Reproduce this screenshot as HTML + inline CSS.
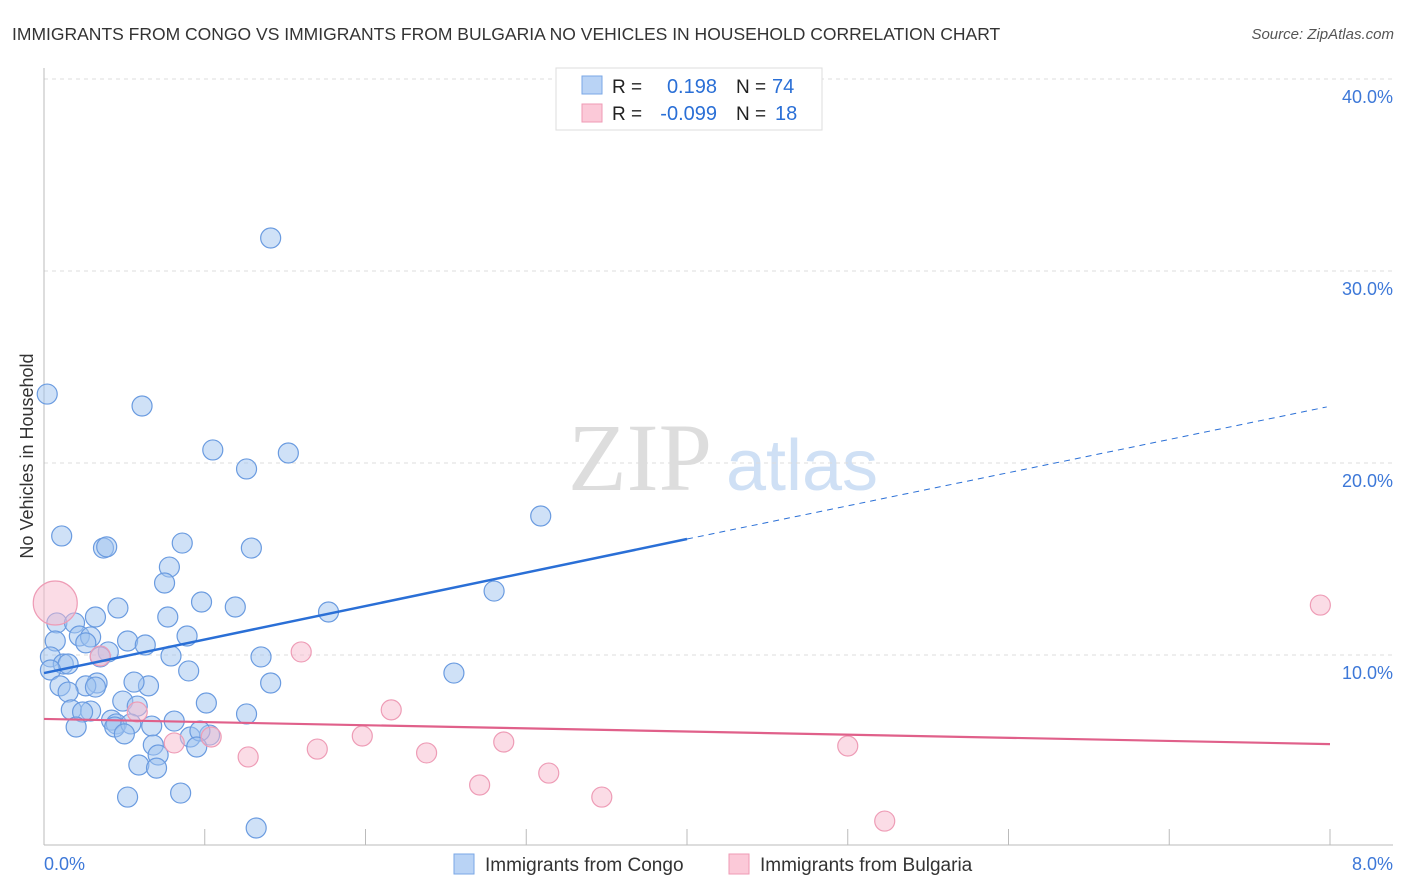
<!DOCTYPE html>
<html><head><meta charset="utf-8"><style>
body{margin:0;background:#fff;font-family:"Liberation Sans",sans-serif;}
svg{display:block}
</style></head><body>
<svg width="1406" height="892" id="chart">
<text x="12" y="40" font-size="17.5" fill="#333">IMMIGRANTS FROM CONGO VS IMMIGRANTS FROM BULGARIA NO VEHICLES IN HOUSEHOLD CORRELATION CHART</text>
<text x="1394" y="39" font-size="15" fill="#555" font-style="italic" text-anchor="end">Source: ZipAtlas.com</text>
<text x="640" y="490" font-size="96" fill="#ddd" text-anchor="middle" font-family="Liberation Serif,serif">ZIP</text>
<text x="802" y="490" font-size="72" fill="#cfe0f5" text-anchor="middle">atlas</text>
<g id="grid"></g><g id="axes"></g><g id="pts"></g><g id="trend"></g>
<text x="33" y="456" font-size="18" fill="#333" text-anchor="middle" transform="rotate(-90 33 456)">No Vehicles in Household</text>
<g>
<rect x="556" y="68" width="266" height="62" fill="#fff" stroke="#ddd"/>
<rect x="582" y="76" width="20" height="18" fill="#b9d3f5" stroke="#7aa7e6"/>
<rect x="582" y="104" width="20" height="18" fill="#fbc9d8" stroke="#ef9ab5"/>
<text x="612" y="93" font-size="19" fill="#222">R =</text><text x="717" y="93" font-size="20" fill="#2a6fd6" text-anchor="end">0.198</text>
<text x="736" y="93" font-size="19" fill="#222">N =</text><text x="772" y="93" font-size="20" fill="#2a6fd6">74</text>
<text x="612" y="120" font-size="19" fill="#222">R =</text><text x="717" y="120" font-size="20" fill="#2a6fd6" text-anchor="end">-0.099</text>
<text x="736" y="120" font-size="19" fill="#222">N =</text><text x="775" y="120" font-size="20" fill="#2a6fd6">18</text>
</g>
<g>
<rect x="454" y="854" width="20" height="20" fill="#b9d3f5" stroke="#7aa7e6"/>
<text x="485" y="871" font-size="19" fill="#333">Immigrants from Congo</text>
<rect x="729" y="854" width="20" height="20" fill="#fbc9d8" stroke="#ef9ab5"/>
<text x="760" y="871" font-size="19" fill="#333">Immigrants from Bulgaria</text>
</g>
</svg>
<script>
const yTicks=[10,20,30,40];
const xTickLabels=["0.0%","8.0%"];
const congoX=[0.02,0.61,1.41,1.05,1.52,1.26,3.09,0.11,0.37,0.39,0.86,1.29,0.78,0.75,2.80,0.98,1.19,0.46,0.32,0.77,1.77,0.08,0.19,0.07,0.22,0.29,0.26,0.52,0.63,0.89,0.40,0.35,0.04,0.12,0.15,0.79,1.35,2.55,0.04,0.90,1.41,0.33,0.26,0.32,0.65,0.10,0.15,0.56,0.49,1.01,0.17,0.29,0.24,0.58,1.26,0.42,0.45,0.81,0.20,0.44,0.67,0.54,0.91,1.03,0.50,0.97,0.68,0.95,0.71,0.59,0.70,0.52,0.85,1.32];
const congoY=[23.59,22.97,31.72,20.68,20.52,19.69,17.24,16.20,15.57,15.63,15.83,15.57,14.58,13.75,13.33,12.76,12.50,12.45,11.98,11.98,12.24,11.67,11.67,10.73,10.99,10.94,10.63,10.73,10.52,10.99,10.16,9.90,9.90,9.53,9.53,9.95,9.90,9.06,9.22,9.17,8.54,8.54,8.39,8.33,8.39,8.39,8.07,8.59,7.60,7.50,7.14,7.08,7.03,7.34,6.93,6.61,6.41,6.56,6.25,6.25,6.30,6.41,5.73,5.83,5.89,6.04,5.31,5.21,4.79,4.27,4.11,2.60,2.81,0.99];
const bulgX=[0.07,0.35,1.60,2.16,0.58,0.81,1.04,1.27,1.70,1.98,2.38,2.86,3.14,2.71,3.47,5.00,5.23,7.94];
const bulgY=[12.71,9.95,10.16,7.14,7.03,5.42,5.73,4.69,5.10,5.78,4.90,5.47,3.85,3.23,2.60,5.26,1.35,12.60];
const bulgSize=[22,10,10,10,10,10,10,10,10,10,10,10,10,10,10,10,10,10];
const congoTrend=[[0,9.06],[4.0,16.04],[7.98,22.92]];
const bulgTrend=[[0,6.67],[8.0,5.36]];
const sx=v=>44+v*160.75, sy=v=>847-v*19.2;
const NS="http://www.w3.org/2000/svg";
function mk(t,a,p){const e=document.createElementNS(NS,t);for(const k in a)e.setAttribute(k,a[k]);p.appendChild(e);return e;}
const grid=document.getElementById('grid'),axes=document.getElementById('axes'),pts=document.getElementById('pts'),tr=document.getElementById('trend');
yTicks.forEach(v=>{
 const l=mk('line',{x1:44,x2:1393,y1:sy(v),y2:sy(v),stroke:'#ddd','stroke-dasharray':'4,4'},grid);
 
 
 const t=mk('text',{x:1393,y:sy(v)+24,'font-size':18,fill:'#3d78d8','text-anchor':'end'},axes);
 t.textContent=v.toFixed(1)+'%';
 
 
});
let a=mk('line',{x1:44,x2:44,y1:68,y2:845,stroke:'#bbb'},axes);


a=mk('line',{x1:44,x2:1393,y1:845,y2:845,stroke:'#bbb'},axes);


for(let i=1;i<=8;i++){const t=mk('line',{x1:sx(i),x2:sx(i),y1:829,y2:845,stroke:'#bbb'},axes);
 
 }
[[0,'start'],[8,'end']].forEach((d,i)=>{const t=mk('text',{x:i?1393:44,y:870,'font-size':18,fill:'#3d78d8','text-anchor':d[1]},axes);t.textContent=xTickLabels[i];
 
 });
congoX.forEach((x,i)=>{const c=mk('circle',{cx:sx(x),cy:sy(congoY[i]),r:10,fill:'rgba(160,195,240,0.5)',stroke:'#6a9be0','stroke-width':1.2},pts);
 
 });
bulgX.forEach((x,i)=>{const c=mk('circle',{cx:sx(x),cy:sy(bulgY[i]),r:bulgSize[i],fill:'rgba(248,185,205,0.5)',stroke:'#ee9cb6','stroke-width':1.2},pts);
 
 });
let l=mk('line',{x1:sx(congoTrend[0][0]),y1:sy(congoTrend[0][1]),x2:sx(congoTrend[1][0]),y2:sy(congoTrend[1][1]),stroke:'#2a6fd6','stroke-width':2.5},tr);


l=mk('line',{x1:sx(congoTrend[1][0]),y1:sy(congoTrend[1][1]),x2:sx(congoTrend[2][0]),y2:sy(congoTrend[2][1]),stroke:'#2a6fd6','stroke-width':1,'stroke-dasharray':'6,5'},tr);


l=mk('line',{x1:sx(bulgTrend[0][0]),y1:sy(bulgTrend[0][1]),x2:sx(bulgTrend[1][0]),y2:sy(bulgTrend[1][1]),stroke:'#e0608a','stroke-width':2.2},tr);


</script>
</body></html>
